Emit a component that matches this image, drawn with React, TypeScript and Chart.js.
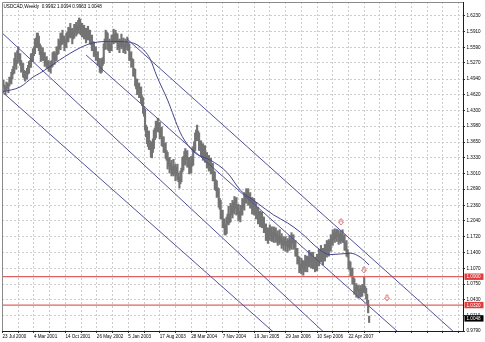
import React, { useEffect, useRef } from 'react';
import { Chart, registerables } from 'chart.js';

Chart.register(...registerables);

const titleText = 'USDCAD,Weekly  0.9992 1.0094 0.9963 1.0048';

// Weekly lows / highs, week 0 = 23 Jul 2000
const weekLow = [
  1.466, 1.478, 1.470, 1.462, 1.472, 1.476, 1.466, 1.480, 1.486, 1.484,
  1.494, 1.504, 1.506, 1.522, 1.514, 1.526, 1.536, 1.528, 1.522, 1.508,
  1.512, 1.498, 1.496, 1.490, 1.498, 1.494, 1.504, 1.506, 1.518, 1.518,
  1.530, 1.530, 1.542, 1.546, 1.560, 1.558, 1.566, 1.552, 1.544, 1.530,
  1.534, 1.532, 1.532, 1.520, 1.524, 1.516, 1.518, 1.510, 1.510, 1.506,
  1.518, 1.520, 1.534, 1.524, 1.532, 1.532, 1.544, 1.546, 1.556, 1.554,
  1.564, 1.566, 1.566, 1.552, 1.560, 1.558, 1.570, 1.570, 1.580, 1.578,
  1.580, 1.566, 1.576, 1.578, 1.590, 1.582, 1.586, 1.588, 1.598, 1.586,
  1.584, 1.580, 1.582, 1.576, 1.578, 1.568, 1.580, 1.574, 1.580, 1.566,
  1.564, 1.552, 1.554, 1.540, 1.544, 1.532, 1.534, 1.522, 1.524, 1.508,
  1.506, 1.508, 1.522, 1.526, 1.554, 1.556, 1.570, 1.554, 1.552, 1.548,
  1.552, 1.552, 1.568, 1.566, 1.572, 1.568, 1.570, 1.554, 1.558, 1.548,
  1.560, 1.556, 1.560, 1.548, 1.552, 1.546, 1.560, 1.554, 1.552, 1.532,
  1.532, 1.518, 1.520, 1.500, 1.500, 1.480, 1.474, 1.462, 1.466, 1.456,
  1.460, 1.446, 1.440, 1.424, 1.418, 1.390, 1.376, 1.362, 1.356, 1.350,
  1.350, 1.334, 1.333, 1.344, 1.352, 1.370, 1.374, 1.388, 1.386, 1.386,
  1.372, 1.376, 1.358, 1.356, 1.344, 1.344, 1.332, 1.328, 1.310, 1.316,
  1.302, 1.308, 1.296, 1.300, 1.296, 1.300, 1.286, 1.298, 1.288, 1.284,
  1.271, 1.280, 1.284, 1.304, 1.308, 1.320, 1.318, 1.330, 1.314, 1.314,
  1.300, 1.304, 1.302, 1.316, 1.318, 1.344, 1.348, 1.370, 1.368, 1.368,
  1.348, 1.348, 1.336, 1.340, 1.328, 1.338, 1.324, 1.324, 1.312, 1.316,
  1.306, 1.310, 1.300, 1.302, 1.286, 1.286, 1.268, 1.266, 1.252, 1.254,
  1.232, 1.228, 1.208, 1.208, 1.190, 1.190, 1.176, 1.175, 1.178, 1.198,
  1.196, 1.200, 1.202, 1.216, 1.210, 1.222, 1.218, 1.230, 1.216, 1.218,
  1.204, 1.208, 1.202, 1.216, 1.216, 1.230, 1.226, 1.242, 1.240, 1.250,
  1.236, 1.240, 1.230, 1.232, 1.218, 1.230, 1.216, 1.218, 1.208, 1.210,
  1.198, 1.202, 1.192, 1.204, 1.190, 1.196, 1.180, 1.180, 1.164, 1.170,
  1.158, 1.168, 1.164, 1.174, 1.162, 1.164, 1.160, 1.172, 1.160, 1.164,
  1.154, 1.160, 1.156, 1.160, 1.148, 1.154, 1.144, 1.154, 1.142, 1.152,
  1.140, 1.150, 1.144, 1.150, 1.146, 1.158, 1.146, 1.148, 1.132, 1.132,
  1.116, 1.116, 1.098, 1.102, 1.096, 1.108, 1.093, 1.104, 1.100, 1.112,
  1.100, 1.112, 1.110, 1.120, 1.108, 1.112, 1.106, 1.110, 1.100, 1.104,
  1.102, 1.116, 1.112, 1.124, 1.120, 1.124, 1.114, 1.126, 1.122, 1.134,
  1.130, 1.142, 1.132, 1.144, 1.142, 1.156, 1.154, 1.166, 1.160, 1.168,
  1.162, 1.172, 1.156, 1.162, 1.158, 1.164, 1.160, 1.160, 1.144, 1.144,
  1.132, 1.130, 1.106, 1.104, 1.090, 1.092, 1.076, 1.074, 1.054, 1.058,
  1.048, 1.060, 1.046, 1.052, 1.048, 1.050, 1.050, 1.058, 1.058, 1.056,
  1.044, 1.036, 1.016, 0.9963,
];

const weekHigh = [
  1.486, 1.492, 1.482, 1.478, 1.488, 1.486, 1.484, 1.498, 1.498, 1.508,
  1.514, 1.520, 1.536, 1.548, 1.532, 1.552, 1.560, 1.546, 1.546, 1.532,
  1.526, 1.526, 1.512, 1.510, 1.510, 1.516, 1.522, 1.530, 1.532, 1.546,
  1.546, 1.556, 1.560, 1.576, 1.578, 1.588, 1.588, 1.582, 1.566, 1.562,
  1.550, 1.558, 1.548, 1.548, 1.538, 1.540, 1.530, 1.532, 1.522, 1.530,
  1.532, 1.548, 1.550, 1.550, 1.546, 1.560, 1.560, 1.576, 1.572, 1.588,
  1.586, 1.594, 1.582, 1.582, 1.574, 1.588, 1.590, 1.600, 1.598, 1.608,
  1.596, 1.598, 1.594, 1.606, 1.604, 1.610, 1.602, 1.614, 1.619, 1.616,
  1.602, 1.608, 1.596, 1.604, 1.594, 1.598, 1.592, 1.602, 1.594, 1.594,
  1.582, 1.584, 1.570, 1.570, 1.558, 1.560, 1.546, 1.550, 1.536, 1.536,
  1.522, 1.536, 1.538, 1.566, 1.576, 1.594, 1.590, 1.588, 1.570, 1.576,
  1.566, 1.584, 1.584, 1.596, 1.586, 1.594, 1.588, 1.586, 1.572, 1.576,
  1.574, 1.586, 1.574, 1.578, 1.566, 1.576, 1.572, 1.580, 1.568, 1.566,
  1.548, 1.550, 1.536, 1.534, 1.516, 1.514, 1.494, 1.494, 1.482, 1.486,
  1.476, 1.478, 1.460, 1.456, 1.438, 1.432, 1.400, 1.396, 1.376, 1.388,
  1.368, 1.366, 1.352, 1.372, 1.390, 1.394, 1.408, 1.406, 1.414, 1.404,
  1.406, 1.394, 1.396, 1.376, 1.376, 1.362, 1.364, 1.348, 1.344, 1.332,
  1.334, 1.322, 1.328, 1.316, 1.330, 1.316, 1.320, 1.314, 1.320, 1.302,
  1.294, 1.306, 1.312, 1.334, 1.336, 1.346, 1.352, 1.346, 1.348, 1.332,
  1.334, 1.322, 1.336, 1.336, 1.356, 1.366, 1.384, 1.390, 1.400, 1.388,
  1.384, 1.364, 1.368, 1.358, 1.362, 1.356, 1.358, 1.342, 1.344, 1.334,
  1.338, 1.326, 1.332, 1.320, 1.322, 1.306, 1.304, 1.288, 1.286, 1.272,
  1.270, 1.250, 1.246, 1.226, 1.226, 1.208, 1.208, 1.196, 1.212, 1.218,
  1.234, 1.218, 1.240, 1.236, 1.246, 1.242, 1.254, 1.250, 1.252, 1.236,
  1.238, 1.224, 1.236, 1.236, 1.250, 1.248, 1.262, 1.260, 1.270, 1.268,
  1.270, 1.258, 1.262, 1.250, 1.252, 1.246, 1.250, 1.236, 1.242, 1.228,
  1.232, 1.220, 1.224, 1.222, 1.222, 1.212, 1.212, 1.196, 1.198, 1.184,
  1.190, 1.186, 1.196, 1.188, 1.192, 1.180, 1.192, 1.188, 1.190, 1.178,
  1.184, 1.174, 1.186, 1.172, 1.178, 1.166, 1.172, 1.168, 1.172, 1.162,
  1.168, 1.164, 1.174, 1.168, 1.180, 1.174, 1.176, 1.162, 1.164, 1.148,
  1.148, 1.132, 1.130, 1.116, 1.128, 1.124, 1.122, 1.122, 1.134, 1.130,
  1.132, 1.130, 1.144, 1.138, 1.140, 1.128, 1.140, 1.126, 1.130, 1.120,
  1.136, 1.134, 1.146, 1.142, 1.154, 1.142, 1.148, 1.144, 1.156, 1.152,
  1.164, 1.160, 1.166, 1.162, 1.176, 1.172, 1.186, 1.180, 1.188, 1.182,
  1.187, 1.186, 1.184, 1.178, 1.184, 1.178, 1.186, 1.174, 1.176, 1.160,
  1.164, 1.146, 1.140, 1.122, 1.120, 1.106, 1.108, 1.090, 1.086, 1.072,
  1.076, 1.072, 1.072, 1.064, 1.072, 1.066, 1.074, 1.074, 1.089, 1.070,
  1.066, 1.054, 1.042, 1.0094,
];

// Moving average
const maWeek = [0, 18, 31, 38, 48, 58, 79, 92, 110, 127, 140, 150, 157, 168, 181, 189, 198, 211, 229, 242, 259, 276, 290, 303, 323, 333, 354, 364, 373];
const maValue = [1.468, 1.478, 1.498, 1.506, 1.519, 1.533, 1.558, 1.568, 1.571, 1.570, 1.560, 1.536, 1.500, 1.451, 1.384, 1.358, 1.340, 1.329, 1.302, 1.267, 1.241, 1.216, 1.200, 1.181, 1.145, 1.135, 1.138, 1.130, 1.114];

// Channel lines (start / end)
const channelStartWeek = [126.7, 85.0, -2.5, -2.5];
const channelStartPrice = [1.5760, 1.5433, 1.5923, 1.4717];
const channelEndWeek = [468.5, 468.5, 468.5, 468.5];
const channelEndPrice = [0.9604, 0.8592, 0.7119, 0.6338];

// Horizontal levels and current price
const levelPrices = [1.0900, 1.0320];
const lastPrice = 1.0048;

// Down arrows
const arrowWeek = [344.4, 367.8, 391.2];
const arrowPrice = [1.2018, 1.1037, 1.0464];

// Axis labels
const dateLabels = ['23 Jul 2000', '4 Mar 2001', '14 Oct 2001', '26 May 2002', '5 Jan 2003', '17 Aug 2003', '28 Mar 2004', '7 Nov 2004', '19 Jun 2005', '29 Jan 2006', '10 Sep 2006', '22 Apr 2007'];
const dateLabelStep = 32;
const gridStep = 16;
const priceTicks = [1.6230, 1.5910, 1.5590, 1.5270, 1.4940, 1.4620, 1.4300, 1.3980, 1.3650, 1.3330, 1.3010, 1.2690, 1.2360, 1.2040, 1.1720, 1.1400, 1.1070, 1.0750, 1.0430, 1.0110, 0.9790];

const xMin = -0.5;
const xMax = 468.5;
const yMin = 0.9790;
const yMax = 1.6516;

const FONT = "'Liberation Sans', Arial, sans-serif";
const FS = 4.6;

export default function App() {
  const ref = useRef<HTMLCanvasElement>(null);

  useEffect(() => {
    document.body.style.margin = '0';
    const canvas = ref.current!;

    const overlay = {
      id: 'overlay',
      afterDraw(chart: any) {
        const { ctx, chartArea: a, scales } = chart;
        const xs = scales.x;
        const ys = scales.y;
        ctx.save();
        ctx.strokeStyle = '#8a8a8a';
        ctx.lineWidth = 1;
        ctx.beginPath();
        ctx.moveTo(a.left + 0.5, a.bottom);
        ctx.lineTo(a.left + 0.5, a.top + 0.5);
        ctx.lineTo(a.right, a.top + 0.5);
        ctx.stroke();
        ctx.font = `${FS}px ${FONT}`;
        ctx.fillStyle = '#000';
        ctx.textBaseline = 'middle';
        ctx.textAlign = 'left';
        ctx.fillText(titleText, a.left + 1.5, 6.5);
        ctx.save();
        ctx.beginPath();
        ctx.rect(a.left, a.top, a.right - a.left, a.bottom - a.top);
        ctx.clip();
        ctx.strokeStyle = '#e07474';
        ctx.lineWidth = 0.9;
        arrowWeek.forEach((w, k) => {
          const cx = xs.getPixelForValue(w);
          const cy = ys.getPixelForValue(arrowPrice[k]);
          ctx.beginPath();
          ctx.moveTo(cx - 1, cy - 3);
          ctx.lineTo(cx + 1, cy - 3);
          ctx.lineTo(cx + 1, cy);
          ctx.lineTo(cx + 2.6, cy);
          ctx.lineTo(cx, cy + 3);
          ctx.lineTo(cx - 2.6, cy);
          ctx.lineTo(cx - 1, cy);
          ctx.closePath();
          ctx.stroke();
        });
        ctx.restore();
        const box = (price: number, color: string) => {
          const py = ys.getPixelForValue(price);
          ctx.fillStyle = color;
          ctx.fillRect(a.right + 1.5, py - 3.2, 19, 6.4);
          ctx.fillStyle = '#fff';
          ctx.fillText(price.toFixed(4), a.right + 3.5, py + 0.2);
        };
        levelPrices.forEach((p) => box(p, '#e23c3c'));
        box(lastPrice, '#000');
        ctx.restore();
      },
    };

    const lineColor = '#525298';
    const datasets: any[] = [];
    channelStartWeek.forEach((w, k) => {
      datasets.push({
        type: 'line',
        data: [
          { x: w, y: channelStartPrice[k] },
          { x: channelEndWeek[k], y: channelEndPrice[k] },
        ],
        borderColor: lineColor,
        borderWidth: 1,
        pointRadius: 0,
        order: 1,
      });
    });
    datasets.push({
      type: 'line',
      data: maWeek.map((w, k) => ({ x: w, y: maValue[k] })),
      borderColor: '#45458c',
      borderWidth: 1,
      pointRadius: 0,
      cubicInterpolationMode: 'monotone',
      order: 1,
    });
    levelPrices.forEach((p) => {
      datasets.push({
        type: 'line',
        data: [
          { x: xMin, y: p },
          { x: xMax, y: p },
        ],
        borderColor: '#e06262',
        borderWidth: 1.3,
        pointRadius: 0,
        order: 1,
      });
    });
    datasets.push({
      type: 'bar',
      data: weekLow.map((l, i) => ({ x: i, y: [l, weekHigh[i]] })),
      backgroundColor: '#747474',
      borderWidth: 0,
      barThickness: 1.5,
      grouped: false,
      order: 5,
    });

    const gridWeeks: number[] = [];
    for (let w = 0; w <= xMax; w += gridStep) gridWeeks.push(w);

    const gridOpts = {
      color: '#cccccc',
      lineWidth: 1,
      offset: false,
      drawTicks: true,
      tickLength: 2,
      tickColor: '#333',
      tickBorderDash: [],
    };
    const borderOpts = { display: true, color: '#1e1e1e', width: 1, dash: [2, 2] };

    const chart = new Chart(canvas, {
      type: 'line',
      data: { datasets },
      plugins: [overlay],
      options: {
        animation: false,
        responsive: false,
        maintainAspectRatio: false,
        events: [],
        layout: { padding: { left: 2, top: 2, right: 0, bottom: 0 } },
        plugins: {
          legend: { display: false },
          tooltip: { enabled: false },
          title: { display: false },
        },
        scales: {
          x: {
            type: 'linear',
            min: xMin,
            max: xMax,
            offset: false,
            grid: gridOpts,
            border: borderOpts,
            ticks: {
              autoSkip: false,
              maxRotation: 0,
              minRotation: 0,
              align: 'start',
              padding: 1,
              color: '#000',
              font: { family: FONT, size: FS },
              callback: (v: any) => {
                const k = Number(v) / dateLabelStep;
                return Number.isInteger(k) && k < dateLabels.length ? dateLabels[k] : '';
              },
            },
            afterBuildTicks: (s: any) => {
              s.ticks = gridWeeks.map((v) => ({ value: v }));
            },
            afterFit: (s: any) => {
              s.height = 11;
              s.paddingLeft = 0;
              s.paddingRight = 0;
              s.paddingTop = 0;
              s.paddingBottom = 0;
            },
          },
          y: {
            type: 'linear',
            position: 'right',
            min: yMin,
            max: yMax,
            beginAtZero: false,
            grid: gridOpts,
            border: borderOpts,
            ticks: {
              autoSkip: false,
              crossAlign: 'near',
              padding: 1.5,
              color: '#000',
              font: { family: FONT, size: FS },
              callback: (v: any) => Number(v).toFixed(4),
            },
            afterBuildTicks: (s: any) => {
              s.ticks = priceTicks.map((v) => ({ value: v }));
            },
            afterFit: (s: any) => {
              s.width = 22;
              s.paddingLeft = 0;
              s.paddingRight = 0;
              s.paddingTop = 0;
              s.paddingBottom = 0;
            },
          },
        },
      } as any,
    });
    return () => chart.destroy();
  }, []);

  return <canvas ref={ref} width={485} height={342} style={{ display: 'block' }} />;
}
